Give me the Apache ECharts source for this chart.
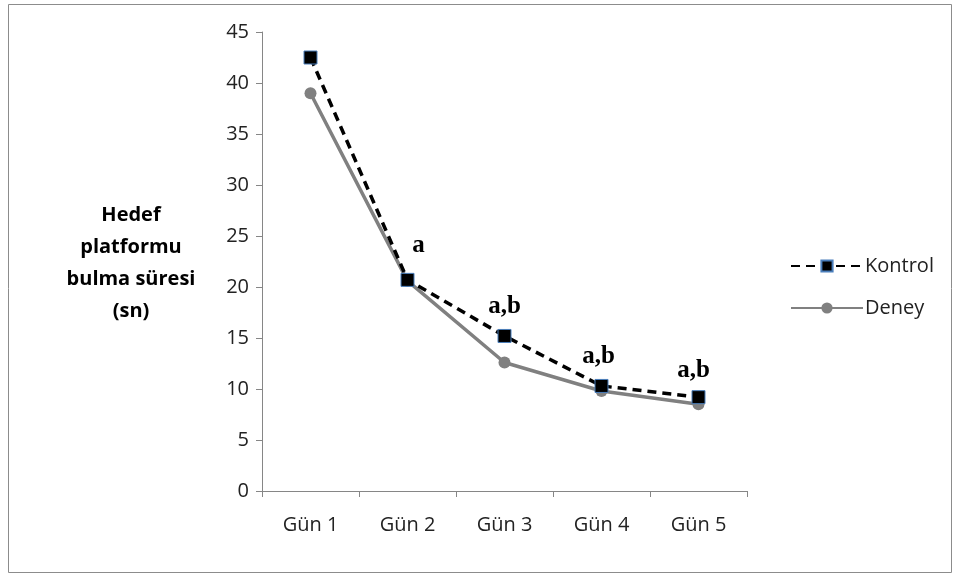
<!DOCTYPE html>
<html><head><meta charset="utf-8">
<script src="https://cdn.jsdelivr.net/npm/echarts@6/dist/echarts.min.js"></script>
<style>html,body{margin:0;padding:0;background:#fff}#c{width:960px;height:578px}</style>
</head><body><div id="c"></div>
<script>
const categories = ['Gün 1','Gün 2','Gün 3','Gün 4','Gün 5'];
const kontrol = [42.5, 20.7, 15.2, 10.3, 9.2];
const deney = [39.0, 20.6, 12.6, 9.8, 8.5];
const marks = ['', 'a', 'a,b', 'a,b', 'a,b'];
const yTitle = 'Hedef\nplatformu\nbulma süresi\n(sn)';

const FONT = '"Open Sans", "Liberation Sans", sans-serif';
const chart = echarts.init(document.getElementById('c'));
chart.setOption({
  animation: false,
  graphic: [
    {type:'rect', shape:{x:8.5,y:4.5,width:943,height:568}, style:{fill:'none', stroke:'#8c8c8c', lineWidth:1}},
    {type:'text', x:131, y:199, style:{text:yTitle, fontFamily:FONT, fontWeight:'bold', fontSize:20, fill:'#000', align:'center', verticalAlign:'top', lineHeight:32}}
  ],
  legend: {
    orient:'vertical', left:785, top:251, itemGap:22, itemWidth:72, itemHeight:14,
    textStyle:{fontSize:20, color:'#222', fontFamily:FONT, padding:[0,0,0,-3]},
    data:['Kontrol','Deney']
  },
  grid: {left:262, right:213, top:32, bottom:87},
  xAxis: {
    type:'category', data:categories, boundaryGap:true,
    axisLine:{lineStyle:{color:'#868686'}},
    axisTick:{show:true, length:6, lineStyle:{color:'#868686'}},
    axisLabel:{fontSize:20, color:'#222', margin:24, fontFamily:FONT}
  },
  yAxis: {
    type:'value', min:0, max:45, interval:5,
    axisLine:{show:true, lineStyle:{color:'#868686'}},
    axisTick:{show:true, length:6, lineStyle:{color:'#868686'}},
    splitLine:{show:false},
    axisLabel:{fontSize:20, color:'#222', margin:13, fontFamily:FONT}
  },
  series: [
    {
      name:'Deney', type:'line', data:deney, symbol:'circle', symbolSize:12,
      lineStyle:{color:'#808080', width:3.5},
      itemStyle:{color:'#808080'}, z:2
    },
    {
      name:'Kontrol', type:'line', data:kontrol, symbol:'rect', symbolSize:13,
      lineStyle:{color:'#000', width:3.5, type:[9,6]},
      itemStyle:{color:'#000', borderColor:'#4a7ebb', borderWidth:1}, z:3,
      label:{show:true, position:'top', distance:10,
        formatter:p=>marks[p.dataIndex],
        fontFamily:'"Liberation Serif", "Times New Roman", serif', fontWeight:'bold', fontSize:25, color:'#000'},
      labelLayout: function(p){ return p.dataIndex===1 ? {dx:11, dy:-5} : (p.dataIndex===4? {dx:-5, dy:3}:(p.dataIndex===3?{dx:-3}:{})); }
    }
  ]
});
</script></body></html>
